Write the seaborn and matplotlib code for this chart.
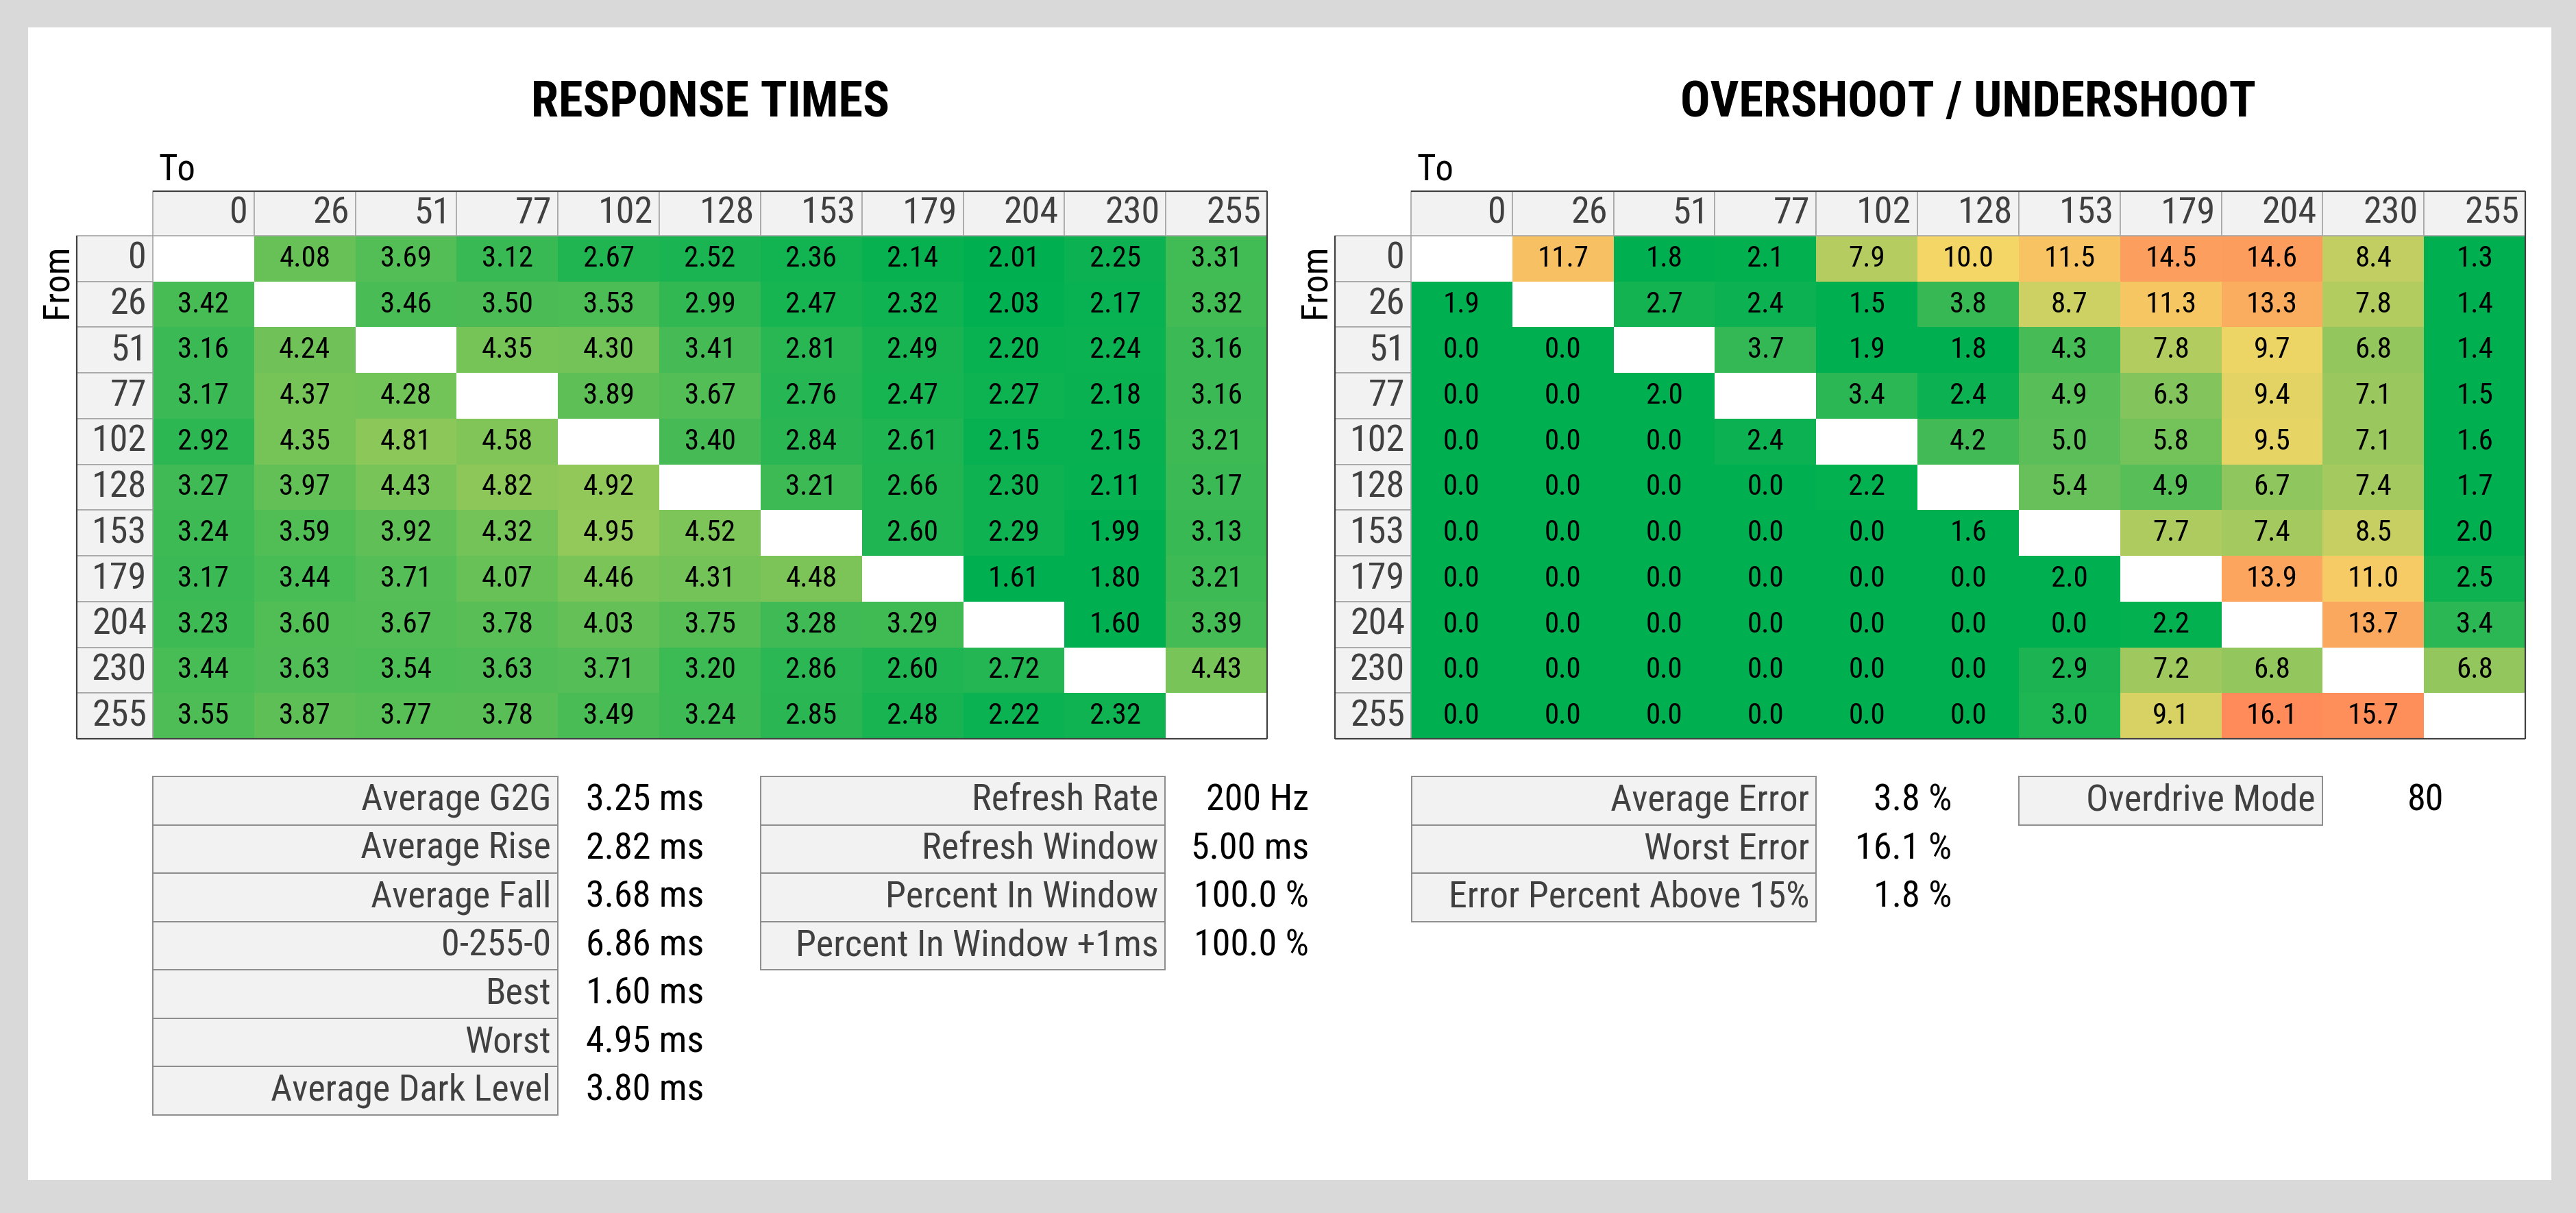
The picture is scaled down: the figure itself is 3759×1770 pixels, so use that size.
import numpy as np
import pandas as pd
import matplotlib
matplotlib.use('Agg')
import matplotlib.pyplot as plt
from matplotlib.colors import LinearSegmentedColormap
from matplotlib.patches import Rectangle
from matplotlib import font_manager
import seaborn as sns

# gray levels of the transitions (from = rows, to = columns)
levels = [0, 26, 51, 77, 102, 128, 153, 179, 204, 230, 255]
nan = np.nan

# response times in ms
rt_0 = [nan, 4.08, 3.69, 3.12, 2.67, 2.52, 2.36, 2.14, 2.01, 2.25, 3.31]
rt_26 = [3.42, nan, 3.46, 3.50, 3.53, 2.99, 2.47, 2.32, 2.03, 2.17, 3.32]
rt_51 = [3.16, 4.24, nan, 4.35, 4.30, 3.41, 2.81, 2.49, 2.20, 2.24, 3.16]
rt_77 = [3.17, 4.37, 4.28, nan, 3.89, 3.67, 2.76, 2.47, 2.27, 2.18, 3.16]
rt_102 = [2.92, 4.35, 4.81, 4.58, nan, 3.40, 2.84, 2.61, 2.15, 2.15, 3.21]
rt_128 = [3.27, 3.97, 4.43, 4.82, 4.92, nan, 3.21, 2.66, 2.30, 2.11, 3.17]
rt_153 = [3.24, 3.59, 3.92, 4.32, 4.95, 4.52, nan, 2.60, 2.29, 1.99, 3.13]
rt_179 = [3.17, 3.44, 3.71, 4.07, 4.46, 4.31, 4.48, nan, 1.61, 1.80, 3.21]
rt_204 = [3.23, 3.60, 3.67, 3.78, 4.03, 3.75, 3.28, 3.29, nan, 1.60, 3.39]
rt_230 = [3.44, 3.63, 3.54, 3.63, 3.71, 3.20, 2.86, 2.60, 2.72, nan, 4.43]
rt_255 = [3.55, 3.87, 3.77, 3.78, 3.49, 3.24, 2.85, 2.48, 2.22, 2.32, nan]

# overshoot / undershoot in %
os_0 = [nan, 11.7, 1.8, 2.1, 7.9, 10.0, 11.5, 14.5, 14.6, 8.4, 1.3]
os_26 = [1.9, nan, 2.7, 2.4, 1.5, 3.8, 8.7, 11.3, 13.3, 7.8, 1.4]
os_51 = [0.0, 0.0, nan, 3.7, 1.9, 1.8, 4.3, 7.8, 9.7, 6.8, 1.4]
os_77 = [0.0, 0.0, 2.0, nan, 3.4, 2.4, 4.9, 6.3, 9.4, 7.1, 1.5]
os_102 = [0.0, 0.0, 0.0, 2.4, nan, 4.2, 5.0, 5.8, 9.5, 7.1, 1.6]
os_128 = [0.0, 0.0, 0.0, 0.0, 2.2, nan, 5.4, 4.9, 6.7, 7.4, 1.7]
os_153 = [0.0, 0.0, 0.0, 0.0, 0.0, 1.6, nan, 7.7, 7.4, 8.5, 2.0]
os_179 = [0.0, 0.0, 0.0, 0.0, 0.0, 0.0, 2.0, nan, 13.9, 11.0, 2.5]
os_204 = [0.0, 0.0, 0.0, 0.0, 0.0, 0.0, 0.0, 2.2, nan, 13.7, 3.4]
os_230 = [0.0, 0.0, 0.0, 0.0, 0.0, 0.0, 2.9, 7.2, 6.8, nan, 6.8]
os_255 = [0.0, 0.0, 0.0, 0.0, 0.0, 0.0, 3.0, 9.1, 16.1, 15.7, nan]

# summary tables
rt_stat_labels = ['Average G2G', 'Average Rise', 'Average Fall', '0-255-0', 'Best', 'Worst', 'Average Dark Level']
rt_stat_values = [3.25, 2.82, 3.68, 6.86, 1.60, 4.95, 3.80]
refresh_labels = ['Refresh Rate', 'Refresh Window', 'Percent In Window', 'Percent In Window +1ms']
refresh_values = ['200 Hz', '5.00 ms', '100.0 %', '100.0 %']
err_labels = ['Average Error', 'Worst Error', 'Error Percent Above 15%']
err_values = [3.8, 16.1, 1.8]
od_label = 'Overdrive Mode'
od_value = '80'

rt = pd.DataFrame([rt_0, rt_26, rt_51, rt_77, rt_102, rt_128, rt_153, rt_179, rt_204, rt_230, rt_255],
                  index=levels, columns=levels)
ov = pd.DataFrame([os_0, os_26, os_51, os_77, os_102, os_128, os_153, os_179, os_204, os_230, os_255],
                  index=levels, columns=levels)

sns.set_theme(style='white')
names = {f.name for f in font_manager.fontManager.ttflist}
fam = [f for f in ['Liberation Sans Narrow', 'Roboto Condensed', 'DejaVu Sans'] if f in names]
plt.rcParams['font.family'] = fam
plt.rcParams['font.stretch'] = 'condensed'

W, H = 3759, 1770
fig = plt.figure(figsize=(W / 100, H / 100), dpi=100, facecolor='#d9d9d9')

# background panel, pixel coordinates
bg = fig.add_axes([0, 0, 1, 1])
bg.set_xlim(0, W)
bg.set_ylim(H, 0)
bg.axis('off')
bg.add_patch(Rectangle((41, 40), 3682, 1682, facecolor='white', edgecolor='none'))

green = '#00b050'
rt_cmap = LinearSegmentedColormap.from_list('rt', [(0, green), (0.12, green), (1, '#93c85a')])
ov_cmap = LinearSegmentedColormap.from_list('ov', [(0, green), (2.0 / 16.1, green),
                                                    (10.0 / 16.1, '#f4d666'), (1, '#ff8a5a')])

hh = 0.975   # header row height (rows)
hw = 0.75    # header column width (cols)
edge = '#a6a6a6'
dark = '#404040'


def draw_matrix(left, df, cmap, vmin, vmax, fmt, title):
    ax = fig.add_axes([left / W, (H - 1078) / H, 1626 / W, 734 / H])
    sns.heatmap(df, ax=ax, cmap=cmap, vmin=vmin, vmax=vmax, mask=df.isna(), annot=True, fmt=fmt,
                cbar=False, xticklabels=False, yticklabels=False, linewidths=0,
                annot_kws={'size': 31, 'color': 'black'})
    ax.set_facecolor('white')
    ax.set_xlabel('')
    ax.set_ylabel('')
    n = len(df)
    # header cells
    for j, lab in enumerate(df.columns):
        ax.add_patch(Rectangle((j, -hh), 1, hh, facecolor='#f2f2f2', edgecolor=edge, lw=1.2, clip_on=False))
        ax.text(j + 0.94, -hh / 2, str(lab), ha='right', va='center', fontsize=39, color=dark, clip_on=False)
    for i, lab in enumerate(df.index):
        ax.add_patch(Rectangle((-hw, i), hw, 1, facecolor='#f2f2f2', edgecolor=edge, lw=1.2, clip_on=False))
        ax.text(-0.06, i + 0.5, str(lab), ha='right', va='center', fontsize=39, color=dark, clip_on=False)
    # outer border
    kw = dict(color=dark, lw=1.6, clip_on=False, solid_capstyle='butt')
    ax.plot([0, n], [-hh, -hh], **kw)
    ax.plot([n, n], [-hh, n], **kw)
    ax.plot([-hw, n], [n, n], **kw)
    ax.plot([-hw, -hw], [0, n], **kw)
    for s in ax.spines.values():
        s.set_visible(False)
    ax.text(0.06, -hh - 0.47, 'To', ha='left', va='center', fontsize=38, color='black', clip_on=False)
    ax.text(-hw - 0.2, 1.0, 'From', ha='center', va='center', rotation=90, fontsize=38,
            color='black', clip_on=False)
    ax.text(n / 2, -hh - 1.92, title, ha='center', va='center', fontsize=52, fontweight='semibold',
            color='black', clip_on=False)
    return ax


draw_matrix(223, rt, rt_cmap, 1.6, 4.95, '.2f', 'RESPONSE TIMES')
draw_matrix(2059, ov, ov_cmap, 0, 16.1, '.1f', 'OVERSHOOT / UNDERSHOOT')


def stat_box(x0, x1, y0, rh, labels, values, val_right):
    for k, (lab, val) in enumerate(zip(labels, values)):
        y = y0 + k * rh
        bg.add_patch(Rectangle((x0, y), x1 - x0, rh, facecolor='#f2f2f2', edgecolor='#8c8c8c', lw=1.4))
        bg.text(x1 - 10, y + rh / 2, lab, ha='right', va='center', fontsize=39, color=dark)
        bg.text(val_right, y + rh / 2, val, ha='right', va='center', fontsize=39, color='black')


rh = 70.5
stat_box(223, 814, 1133, rh, rt_stat_labels, [f'{v:.2f} ms' for v in rt_stat_values], 1027)
stat_box(1110, 1700, 1133, rh, refresh_labels, refresh_values, 1910)
stat_box(2060, 2650, 1133, rh, err_labels, [f'{v:.1f} %' for v in err_values], 2848)
stat_box(2946, 3389, 1133, rh, [od_label], [od_value], 3566)

fig.savefig('out.png', dpi=100, facecolor=fig.get_facecolor())
